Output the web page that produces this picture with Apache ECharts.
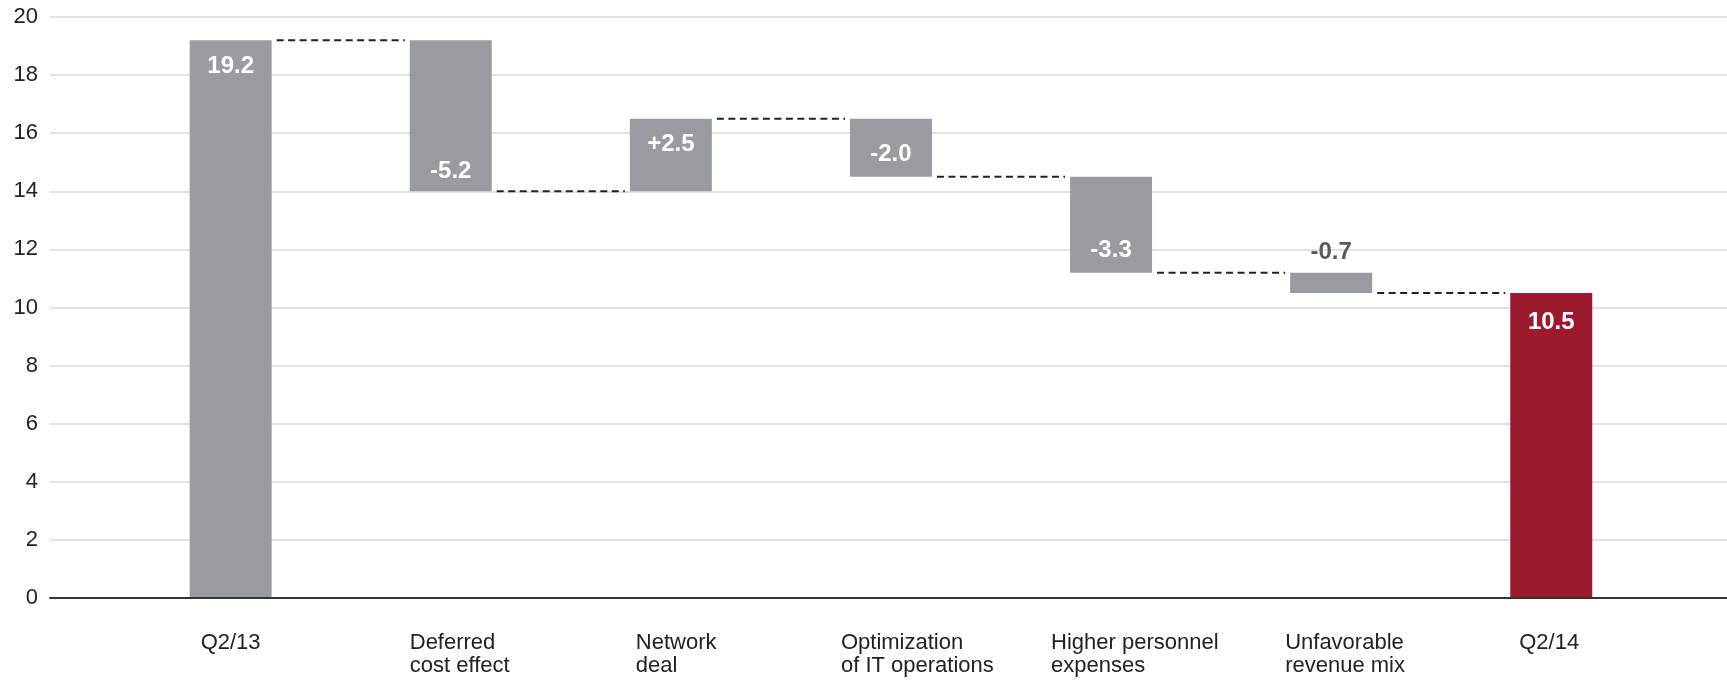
<!DOCTYPE html>
<html>
<head>
<meta charset="utf-8">
<title>EBIT bridge Q2/13 to Q2/14</title>
<script src="https://cdn.jsdelivr.net/npm/echarts@6/dist/echarts.min.js"></script>
<style>
  html, body { margin: 0; padding: 0; background: #fff; }
  #chart { width: 1727px; height: 680px; }
</style>
</head>
<body>
<div id="chart"></div>
<script>
// Bridge steps: first and last entries are totals, the rest are changes.
const categories = [
  'Q2/13',
  'Deferred\ncost effect',
  'Network\ndeal',
  'Optimization\nof IT operations',
  'Higher personnel\nexpenses',
  'Unfavorable\nrevenue mix',
  'Q2/14'
];
const stepValues = [19.2, -5.2, 2.5, -2.0, -3.3, -0.7, 10.5];
const isTotal = [true, false, false, false, false, false, true];
const valueLabels = ['19.2', '-5.2', '+2.5', '-2.0', '-3.3', '-0.7', '10.5'];
const yTicks = [0, 2, 4, 6, 8, 10, 12, 14, 16, 18, 20];

// Layout: where each value label sits on its bar, and how far left of the
// bar centre each category caption starts.
const labelPlacement = ['insideTop', 'insideBottom', 'insideTop', 'insideBottom', 'insideBottom', 'top', 'insideTop'];
const labelDistance = [14, 8, 14, 10, 10, 8, 17];
const captionShift = [30, 41, 35, 50, 60, 46, 32];

const GREY = '#989ca1';
const RED = '#9b1a2e';
const FONT = '"Liberation Sans", Arial, Helvetica, sans-serif';
const BAR_W = 82;

// Floating segments of the waterfall: invisible base plus visible height.
const baseData = [];
const barData = [];
const levels = [];  // running total after each step, used by the connectors
let running = 0;
stepValues.forEach((v, i) => {
  let lo, hi;
  if (isTotal[i]) {
    lo = 0; hi = v; running = v;
  } else {
    const next = Math.round((running + v) * 10) / 10;
    lo = Math.min(running, next); hi = Math.max(running, next);
    running = next;
  }
  levels.push(running);
  baseData.push(lo);
  const last = i === stepValues.length - 1;
  const pos = labelPlacement[i];
  barData.push({
    value: Math.round((hi - lo) * 10) / 10,
    itemStyle: { color: last ? RED : GREY },
    label: {
      show: true,
      position: pos,
      distance: labelDistance[i],
      formatter: valueLabels[i],
      color: pos === 'top' ? '#58595b' : '#ffffff',
      fontFamily: FONT,
      fontWeight: 'bold',
      fontSize: 24
    }
  });
});

// Dashed connectors between consecutive bars at the running total.
const connectorData = levels.slice(0, -1).map((lv, i) => [i, lv]);

// Caption styles: a fixed-width box centred on the tick, text left-aligned in it.
const captionRich = {};
captionShift.forEach((s, i) => {
  captionRich['c' + i] = {
    width: s * 2, align: 'left', color: '#222222',
    fontFamily: FONT, fontSize: 22, lineHeight: 23
  };
});

const chart = echarts.init(document.getElementById('chart'), null, { renderer: 'canvas' });

chart.setOption({
  animation: false,
  backgroundColor: '#ffffff',
  grid: [
    { left: 50, right: 0, top: 17, bottom: 82 },
    { left: 120.6, right: 65.7, top: 17, bottom: 82 }
  ],
  xAxis: [
    {
      gridIndex: 0, type: 'value', min: 0, max: 1, z: 10,
      axisLine: { show: true, onZero: false, lineStyle: { color: '#333333', width: 2 } },
      axisTick: { show: false }, axisLabel: { show: false }, splitLine: { show: false }
    },
    {
      gridIndex: 1, type: 'category', data: categories,
      axisLine: { show: false }, axisTick: { show: false },
      axisLabel: {
        interval: 0, margin: 33, align: 'center',
        fontFamily: FONT, fontSize: 22, lineHeight: 23,
        formatter: (v, idx) => v.split('\n').map((line) => '{c' + idx + '|' + line + '}').join('\n'),
        rich: captionRich
      },
      splitLine: { show: false }
    }
  ],
  yAxis: [
    {
      gridIndex: 0, type: 'value', min: 0, max: 20, interval: 2,
      axisLine: { show: false }, axisTick: { show: false },
      axisLabel: {
        margin: 12, color: '#222222', fontFamily: FONT, fontSize: 22,
        formatter: (v) => (yTicks.includes(v) ? String(v) : '')
      },
      splitLine: { show: true, lineStyle: { color: '#d9d9d9', width: 1.5 } }
    },
    {
      gridIndex: 1, type: 'value', min: 0, max: 20, interval: 2,
      show: false, splitLine: { show: false }
    }
  ],
  series: [
    {
      name: 'base', type: 'bar', xAxisIndex: 1, yAxisIndex: 1,
      stack: 'bridge', barWidth: BAR_W, silent: true,
      itemStyle: { color: 'rgba(0,0,0,0)' },
      data: baseData
    },
    {
      name: 'step', type: 'bar', xAxisIndex: 1, yAxisIndex: 1,
      stack: 'bridge', barWidth: BAR_W,
      data: barData
    },
    {
      name: 'connectors', type: 'custom', xAxisIndex: 1, yAxisIndex: 1,
      data: connectorData, z: 3,
      renderItem: (params, api) => {
        const i = api.value(0);
        const lv = api.value(1);
        const a = api.coord([i, lv]);
        const b = api.coord([i + 1, lv]);
        const half = BAR_W / 2;
        return {
          type: 'line',
          shape: { x1: a[0] + half + 5, y1: a[1], x2: b[0] - half - 5, y2: b[1] },
          style: { stroke: '#222222', lineWidth: 2, lineDash: [7, 4.5] }
        };
      }
    }
  ]
});
</script>
</body>
</html>
